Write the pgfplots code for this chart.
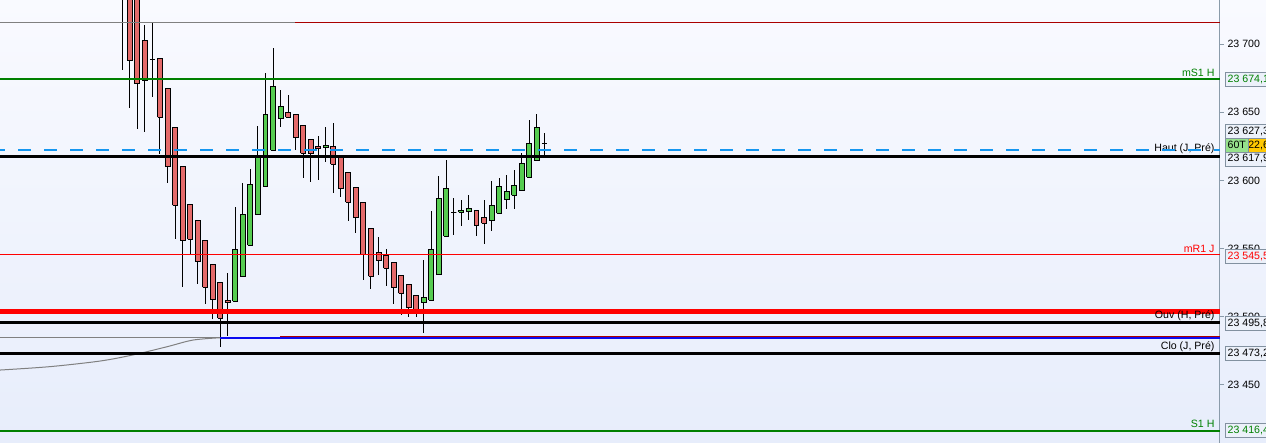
\documentclass[border=0pt]{standalone}
\usepackage{pgfplots}
\pgfplotsset{compat=1.18}
\usepackage{fontspec}
\setmainfont{Liberation Sans}
\definecolor{bgtop}{RGB}{249,250,255}
\definecolor{bgbot}{RGB}{231,237,251}
\definecolor{axisgray}{RGB}{138,155,170}
\definecolor{cred}{RGB}{228,106,106}
\definecolor{cgreen}{RGB}{86,204,80}
\definecolor{darkred}{RGB}{170,0,0}
\definecolor{lgreen}{RGB}{0,128,0}
\definecolor{dashblue}{RGB}{20,150,240}
\definecolor{lineblue}{RGB}{10,10,240}
\definecolor{boxfill}{RGB}{236,241,250}
\definecolor{boxgray}{RGB}{130,145,160}
\definecolor{ybox}{RGB}{255,200,0}
\definecolor{tbox}{RGB}{150,225,140}
\newcommand{\lbl}{\fontsize{10.6}{12}\selectfont}
% candle: position, low, body low, body high, high, colour
\newcommand{\candle}[6]{%
  \pgfmathsetmacro\xl{#1-0.33}\pgfmathsetmacro\xr{#1+0.33}%
  \edef\tmp{\noexpand\addplot[draw=black, line width=1pt] coordinates {(#1,#2) (#1,#5)};
  \noexpand\addplot[fill=#6, draw=black, line width=1pt, line join=miter] coordinates {(\xl,#3) (\xr,#3) (\xr,#4) (\xl,#4) (\xl,#3)};}%
  \tmp}
\tikzset{vbox/.style={draw=boxgray, fill=boxfill, line width=0.8pt, inner xsep=2pt, inner ysep=1pt, minimum height=14pt, anchor=west, font=\lbl, xshift=5.3pt},
  llab/.style={anchor=base east, font=\lbl, xshift=-2pt}}
\begin{document}
\begin{tikzpicture}
\shade[top color=bgtop, bottom color=bgbot] (0,0) rectangle (1266pt,443pt);
\begin{axis}[at={(0,0)}, anchor=south west, scale only axis,
  width=1220pt, height=443pt,
  xmin=-16.23, xmax=145.66, ymin=23407.37, ymax=23732.44,
  axis x line=none, axis y line*=right,
  axis line style={-, draw=axisgray, line width=1pt},
  ytick={23450,23500,23550,23600,23650,23700},
  yticklabels={23 450,23 500,23 550,23 600,23 650,23 700},
  tick align=outside, major tick length=4pt,
  ytick style={draw=axisgray, line width=0.8pt},
  yticklabel style={font=\lbl, text=black},
  clip=false]
\candle{0}{23681.1}{23740}{23760}{23770}{cred}
\candle{1}{23653.2}{23687.9}{23750}{23755}{cred}
\candle{2}{23637.8}{23670.8}{23740}{23745}{cred}
\candle{3}{23635.8}{23673.7}{23702.6}{23714.1}{cred}
\candle{4}{23661.5}{23689.1}{23689.1}{23715.8}{cred}
\candle{5}{23619.4}{23646.4}{23689.7}{23689.7}{cred}
\candle{6}{23598.4}{23610.6}{23667.6}{23667.6}{cred}
\candle{7}{23557.3}{23581.8}{23639.0}{23639.0}{cred}
\candle{8}{23522.0}{23555.6}{23610.6}{23610.6}{cred}
\candle{9}{23546.0}{23556.8}{23582.7}{23582.7}{cred}
\candle{10}{23524.3}{23540.7}{23570.3}{23570.3}{cred}
\candle{11}{23509.4}{23521.6}{23555.6}{23555.6}{cred}
\candle{12}{23498.1}{23512.8}{23538.5}{23538.5}{cred}
\candle{13}{23478.1}{23498.9}{23525.3}{23525.3}{cred}
\candle{14}{23486.1}{23510.6}{23512.1}{23531.9}{cred}
\candle{15}{23511.3}{23511.3}{23549.0}{23580.8}{cgreen}
\candle{16}{23529.7}{23529.7}{23575.4}{23598.4}{cgreen}
\candle{17}{23552.4}{23552.4}{23597.4}{23608.4}{cgreen}
\candle{18}{23575.2}{23575.2}{23617.4}{23639.9}{cgreen}
\candle{19}{23595.7}{23595.7}{23648.6}{23678.9}{cgreen}
\candle{20}{23622.1}{23622.1}{23669.1}{23697.2}{cgreen}
\candle{21}{23639.5}{23645.6}{23654.4}{23666.4}{cgreen}
\candle{22}{23646.4}{23646.4}{23650.0}{23662.7}{cred}
\candle{23}{23622.6}{23631.7}{23648.6}{23648.6}{cred}
\candle{24}{23602.0}{23619.9}{23640.5}{23640.5}{cred}
\candle{25}{23599.1}{23619.9}{23630.2}{23630.2}{cred}
\candle{26}{23600.4}{23623.3}{23625.1}{23632.6}{cred}
\candle{27}{23613.8}{23624.3}{23625.8}{23639.0}{cgreen}
\candle{28}{23591.0}{23611.9}{23624.8}{23641.9}{cred}
\candle{29}{23588.1}{23594.3}{23617.4}{23617.4}{cred}
\candle{30}{23570.5}{23584.0}{23606.0}{23606.0}{cred}
\candle{31}{23561.7}{23573.0}{23595.0}{23595.0}{cred}
\candle{32}{23527.0}{23545.8}{23584.0}{23584.0}{cred}
\candle{33}{23520.6}{23529.7}{23564.9}{23564.9}{cred}
\candle{34}{23530.9}{23541.4}{23547.3}{23558.5}{cred}
\candle{35}{23522.8}{23535.6}{23544.6}{23549.7}{cred}
\candle{36}{23509.6}{23521.3}{23540.0}{23540.0}{cred}
\candle{37}{23501.5}{23517.2}{23530.4}{23530.4}{cred}
\candle{38}{23500.0}{23506.9}{23523.8}{23523.8}{cred}
\candle{39}{23500.0}{23505.2}{23515.7}{23515.7}{cred}
\candle{40}{23488.3}{23510.6}{23514.3}{23541.6}{cgreen}
\candle{41}{23512.1}{23512.1}{23549.5}{23577.6}{cgreen}
\candle{42}{23531.2}{23531.2}{23586.9}{23603.1}{cgreen}
\candle{43}{23559.0}{23559.0}{23594.3}{23615.0}{cgreen}
\candle{44}{23560.2}{23576.4}{23576.4}{23587.1}{cgreen}
\candle{45}{23566.8}{23576.6}{23578.1}{23585.7}{cgreen}
\candle{46}{23571.2}{23577.4}{23579.1}{23589.3}{cgreen}
\candle{47}{23559.5}{23566.8}{23578.1}{23578.1}{cred}
\candle{48}{23553.6}{23568.6}{23572.5}{23585.7}{cred}
\candle{49}{23563.2}{23570.8}{23581.8}{23599.6}{cgreen}
\candle{50}{23575.9}{23575.9}{23595.7}{23601.8}{cgreen}
\candle{51}{23579.3}{23586.2}{23592.1}{23604.0}{cgreen}
\candle{52}{23579.3}{23589.1}{23596.5}{23607.7}{cgreen}
\candle{53}{23592.8}{23592.8}{23612.6}{23620.4}{cgreen}
\candle{54}{23602.3}{23602.3}{23627.3}{23644.2}{cgreen}
\candle{55}{23614.8}{23614.8}{23639.0}{23648.6}{cgreen}
\candle{56}{23618.7}{23627.3}{23627.3}{23634.8}{cgreen}
% level lines
\addplot[gray, line width=1.2pt] coordinates {(-16.23,23716.1) (22.92,23716.1)};
\addplot[darkred, line width=1.2pt] coordinates {(22.92,23716.1) (145.66,23716.1)};
\addplot[lgreen, line width=2pt] coordinates {(-16.23,23674.1) (145.66,23674.1)};
\addplot[black, line width=3pt] coordinates {(-16.23,23617.9) (145.66,23617.9)};
\addplot[red, line width=0.8pt] coordinates {(-16.23,23545.5) (145.66,23545.5)};
\addplot[red, line width=4.5pt] coordinates {(-16.23,23503.8) (145.66,23503.8)};
\addplot[black, line width=3pt] coordinates {(-16.23,23495.8) (145.66,23495.8)};
\addplot[gray, line width=1.2pt] coordinates {(-16.23,23484.6) (12.97,23484.6)};
\addplot[darkred, line width=1pt] coordinates {(20.93,23485.7) (145.66,23485.7)};
\addplot[lineblue, line width=1.5pt] coordinates {(12.97,23484.4) (145.66,23484.4)};
\addplot[gray, line width=1pt, smooth] coordinates {(-16.23,23460.9) (-9.59,23463.4) (-2.96,23467.5) (1.42,23472.0) (5.93,23478.0) (9.38,23482.9) (12.97,23484.6)};
\addplot[black, line width=3pt] coordinates {(-16.23,23473.2) (145.66,23473.2)};
\addplot[lgreen, line width=2pt] coordinates {(-16.23,23416.4) (145.66,23416.4)};
% labels
\node[llab, text=lgreen, yshift=2.5pt] at (axis cs:145.66,23674.1) {mS1 H};
\node[llab, text=black, yshift=5pt] at (axis cs:145.66,23617.9) {Haut (J, Pré)};
\node[llab, text=red, yshift=2.5pt] at (axis cs:145.66,23545.5) {mR1 J};
\node[llab, text=black, yshift=3.5pt] at (axis cs:145.66,23495.8) {Ouv (H, Pré)};
\node[llab, text=black, yshift=3.5pt] at (axis cs:145.66,23473.2) {Clo (J, Pré)};
\node[llab, text=lgreen, yshift=3pt] at (axis cs:145.66,23416.4) {S1 H};
\addplot[dashblue, line width=2pt, dash pattern=on 13pt off 13pt, dash phase=8pt] coordinates {(-16.23,23622.6) (145.66,23622.6)};
% value boxes
\node[vbox, text=lgreen] at (axis cs:145.66,23674.4) {23 674,1};
\node[vbox, text=black] at (axis cs:145.66,23635.9) {23 627,3};
\node[vbox, text=black] at (axis cs:145.66,23615.8) {23 617,9};
\node[vbox, text=black, fill=ybox] at (axis cs:145.66,23625.8) {23 622,6};
\node[vbox, text=black, fill=tbox] at (axis cs:145.66,23625.8) {60T};
\node[vbox, text=red] at (axis cs:145.66,23544.6) {23 545,5};
\node[vbox, text=black] at (axis cs:145.66,23494.9) {23 495,8};
\node[vbox, text=black] at (axis cs:145.66,23473.4) {23 473,2};
\node[vbox, text=lgreen] at (axis cs:145.66,23416.4) {23 416,4};
\end{axis}
\pgfresetboundingbox
\path (0,0) rectangle (1266pt,443pt);
\end{tikzpicture}
\end{document}
